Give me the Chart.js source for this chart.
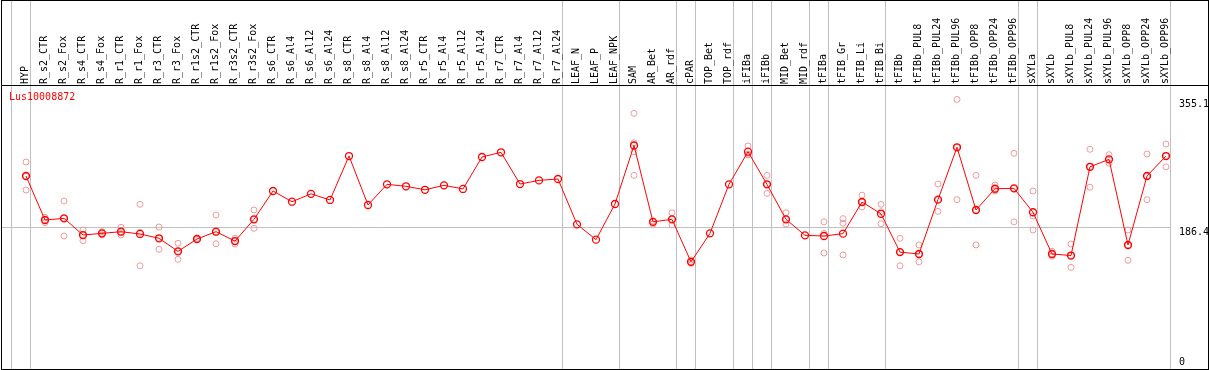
<!DOCTYPE html>
<html>
<head>
<meta charset="utf-8">
<script src="https://cdn.jsdelivr.net/npm/chart.js@4.4.0/dist/chart.umd.min.js"></script>
<style>
html, body { margin: 0; padding: 0; background: #fff; }
#frame { position: absolute; left: 1px; top: 0; width: 1208px; height: 370px; box-sizing: border-box; border: 1px solid #000; overflow: hidden; }
#chart { position: absolute; left: 0; top: 0; }
#hdr { position: absolute; left: 0; top: 84px; width: 1206px; height: 1px; background: #000; }
#title { position: absolute; left: 7px; top: 90px; font: 10px 'DejaVu Sans Mono', monospace; color: #f00; }
</style>
</head>
<body>
<div id="frame">
	<canvas id="chart" width="1206" height="368"></canvas>
	<div id="hdr"></div>
	<div id="title">Lus10008872</div>
</div>
<script>
'use strict';

//樣本名稱
var categories = ['HYP','R_s2_CTR','R_s2_Fox','R_s4_CTR','R_s4_Fox','R_r1_CTR','R_r1_Fox','R_r3_CTR','R_r3_Fox',
	'R_r1s2_CTR','R_r1s2_Fox','R_r3s2_CTR','R_r3s2_Fox','R_s6_CTR','R_s6_Al4','R_s6_Al12','R_s6_Al24',
	'R_s8_CTR','R_s8_Al4','R_s8_Al12','R_s8_Al24','R_r5_CTR','R_r5_Al4','R_r5_Al12','R_r5_Al24',
	'R_r7_CTR','R_r7_Al4','R_r7_Al12','R_r7_Al24','LEAF_N','LEAF_P','LEAF_NPK','SAM','AR_Bet','AR_rdf',
	'cPAR','TOP_Bet','TOP_rdf','iFIBa','iFIBb','MID_Bet','MID_rdf','tFIBa','tFIB_Gr','tFIB_Li','tFIB_Bi',
	'tFIBb','tFIBb_PUL8','tFIBb_PUL24','tFIBb_PUL96','tFIBb_OPP8','tFIBb_OPP24','tFIBb_OPP96',
	'sXYLa','sXYLb','sXYLb_PUL8','sXYLb_PUL24','sXYLb_PUL96','sXYLb_OPP8','sXYLb_OPP24','sXYLb_OPP96'];

//平均值
var meanValues = [254.3,196.3,198.5,176.5,178.7,180.9,177.9,172.2,155.0,171.3,180.9,168.6,197.2,
	234.5,220.4,230.8,222.7,280.6,216.1,243.3,240.7,236.1,242.0,237.2,279.3,285.5,243.7,248.5,250.3,
	190.6,170.4,217.4,294.5,193.9,197.2,141.2,178.7,243.3,286.3,243.3,197.2,176.1,175.2,178.3,220.0,
	204.5,154.0,151.5,223.1,292.1,209.5,237.5,238.0,206.5,151.5,149.5,266.4,276.2,163.4,254.3,280.6];

//重複樣本
var rep1 = [272.7,199.9,221.3,183.1,181.0,186.6,217.0,187.1,165.6,172.0,202.9,172.2,209.5,
	null,null,null,null,null,null,null,null,null,null,null,null,null,null,null,null,null,null,null,
	336.8,195.0,205.8,143.5,null,null,293.8,255.1,205.8,null,193.9,198.1,229.0,217.0,172.2,163.4,
	243.7,355.1,255.1,242.4,284.2,234.5,155.1,164.7,289.5,282.3,183.1,283.3,296.4];
var rep2 = [254.0,196.3,198.5,176.5,178.7,180.9,180.0,172.2,155.0,171.3,180.9,168.6,197.2,
	null,null,null,null,null,null,null,null,null,null,null,null,null,null,null,null,null,null,null,
	298.1,193.9,197.2,141.2,null,null,283.2,243.3,197.2,null,178.7,192.1,220.0,207.3,154.0,151.5,
	223.1,292.0,209.5,237.5,238.0,201.6,151.5,149.5,266.4,276.2,163.4,254.3,280.6];
var rep3 = [235.8,192.8,175.2,169.1,176.5,176.5,136.0,157.7,144.5,170.5,165.0,164.7,185.4,
	null,null,null,null,null,null,null,null,null,null,null,null,null,null,null,null,null,null,null,
	286.3,191.0,190.0,139.0,null,null,281.9,231.3,191.0,null,152.8,150.2,213.6,191.4,136.0,141.2,
	207.7,223.1,163.4,234.5,193.9,183.1,148.5,134.0,239.5,271.1,143.2,223.1,266.4];
var rep4 = [null,null,null,null,null,null,null,null,null,null,null,null,null,
	null,null,null,null,null,null,null,null,null,null,null,null,null,null,null,null,null,null,null,
	255.1,null,null,null,null,null,null,null,null,null,null,null,null,null,null,null,
	null,null,null,null,null,null,null,null,null,null,null,null,null];

//分組線 (在這些樣本之後)
var groupEnds = [-1, 0, 28, 31, 34, 35, 37, 38, 39, 41, 42, 45, 52, 53, 60];

//Y軸刻度
var yTicks = [0, 186.4, 355.1];
var yMax = 372.86;

var monoFont = { family: 'DejaVu Sans Mono', size: 10, lineHeight: 1.2 };

function toPoints(arr) {
	var pts = [];
	for (var i = 0; i < arr.length; i++) {
		if (arr[i] !== null) pts.push({ x: i, y: arr[i] });
	}
	return pts;
}

function isSep(v) {
	return !Number.isInteger(v);
}

//不要讓刻度文字擠壓繪圖區
function noPad(scale) {
	scale.paddingLeft = 0;
	scale.paddingRight = 0;
	scale.paddingTop = 0;
	scale.paddingBottom = 0;
}

function repSet(arr) {
	return {
		data: toPoints(arr),
		showLine: false,
		borderColor: '#f09a9a',
		pointRadius: 3,
		pointBorderWidth: 1,
		pointBorderColor: '#f09a9a',
		pointBackgroundColor: 'rgba(0,0,0,0)',
		xAxisID: 'x',
		yAxisID: 'y',
		order: 1
	};
}

var ctx = document.getElementById('chart');
var chart = new Chart(ctx, {
	type: 'line',
	data: {
		datasets: [{
			label: 'Lus10008872',
			data: toPoints(meanValues),
			borderColor: '#ff0000',
			borderWidth: 1,
			pointRadius: 3.5,
			pointBorderWidth: 1.3,
			pointBorderColor: '#ff0000',
			pointBackgroundColor: 'rgba(0,0,0,0)',
			tension: 0,
			fill: false,
			xAxisID: 'x',
			yAxisID: 'y',
			order: 0
		}, repSet(rep1), repSet(rep2), repSet(rep3), repSet(rep4)]
	},
	options: {
		responsive: false,
		animation: false,
		layout: { padding: 0, autoPadding: false },
		plugins: { legend: { display: false }, tooltip: { enabled: false } },
		scales: {
			x: {
				type: 'linear',
				position: 'top',
				min: -1.2632,
				max: 60.2632,
				afterBuildTicks: function(scale) {
					var t = [];
					groupEnds.forEach(function(g) { t.push({ value: g + 0.25 }); });
					categories.forEach(function(c, i) { t.push({ value: i }); });
					t.sort(function(a, b) { return a.value - b.value; });
					scale.ticks = t;
				},
				afterFit: function(scale) { scale.height = 85; noPad(scale); },
				border: { display: false },
				grid: {
					color: function(c) { return isSep(c.tick.value) ? '#c0c0c0' : 'rgba(0,0,0,0)'; },
					tickColor: function(c) { return isSep(c.tick.value) ? '#c0c0c0' : 'rgba(0,0,0,0)'; },
					tickLength: 85,
					drawTicks: true
				},
				ticks: {
					autoSkip: false,
					minRotation: 90,
					maxRotation: 90,
					padding: -83,
					labelOffset: 11,
					color: '#000',
					font: monoFont,
					callback: function(v) { return Number.isInteger(v) ? categories[v] : ''; }
				}
			},
			y: {
				type: 'linear',
				position: 'right',
				min: 0,
				max: yMax,
				afterBuildTicks: function(scale) {
					scale.ticks = yTicks.map(function(v) { return { value: v }; });
				},
				afterFit: function(scale) { scale.width = 37; noPad(scale); },
				border: { display: false },
				grid: {
					color: function(c) { return c.tick.value === yTicks[1] ? '#c0c0c0' : 'rgba(0,0,0,0)'; },
					drawTicks: false
				},
				ticks: {
					align: 'start',
					padding: 8,
					color: '#000',
					font: monoFont,
					//0 的標籤往上移,才不會被切掉
					callback: function(v) { return v === 0 ? ['0', '', ''] : String(v); }
				}
			}
		}
	}
});
</script>
</body>
</html>
